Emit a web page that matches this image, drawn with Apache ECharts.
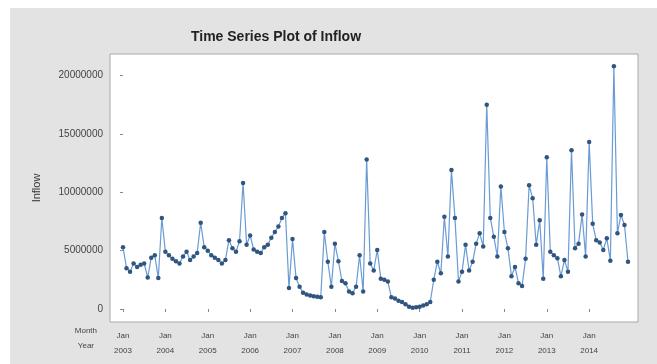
<!DOCTYPE html>
<html>
<head>
<meta charset="utf-8">
<script src="https://cdn.jsdelivr.net/npm/echarts@6/dist/echarts.min.js"></script>
<style>
  html, body { margin: 0; padding: 0; background: #ffffff; }
  #chart { width: 657px; height: 364px; }
</style>
</head>
<body>
<div id="chart"></div>
<script>
// Monthly inflow, January 2003 through December 2014 (one value per month)
const inflow = [
  5300000, 3500000, 3200000, 3900000, 3600000, 3800000, 3900000, 2700000, 4400000, 4600000, 2650000, 7800000,
  4900000, 4600000, 4300000, 4100000, 3900000, 4500000, 4900000, 4200000, 4500000, 4800000, 7400000, 5300000,
  5000000, 4600000, 4400000, 4200000, 3900000, 4200000, 5900000, 5200000, 4900000, 5800000, 10800000, 5500000,
  6300000, 5100000, 4900000, 4800000, 5300000, 5500000, 6100000, 6600000, 7060000, 7800000, 8200000, 1800000,
  6000000, 2650000, 1900000, 1400000, 1250000, 1150000, 1100000, 1050000, 1000000, 6600000, 4050000, 1900000,
  5600000, 4100000, 2400000, 2200000, 1500000, 1350000, 1900000, 4600000, 1500000, 12800000, 3900000, 3300000,
  5060000, 2600000, 2500000, 2350000, 1000000, 900000, 700000, 600000, 400000, 200000, 100000, 150000,
  200000, 300000, 400000, 600000, 2500000, 4050000, 3060000, 7900000, 4500000, 11900000, 7800000, 2350000,
  3200000, 5500000, 3300000, 4050000, 5600000, 6500000, 5350000, 17500000, 7800000, 6200000, 4500000, 10500000,
  6600000, 5200000, 2800000, 3600000, 2200000, 1970000, 4300000, 10600000, 9500000, 5500000, 7600000, 2600000,
  13000000, 4900000, 4600000, 4350000, 2800000, 4200000, 3200000, 13600000, 5200000, 5600000, 8100000, 4500000,
  14300000, 7300000, 5900000, 5700000, 5060000, 6060000, 4140000, 20800000, 6500000, 8060000, 7200000, 4050000
];

// Year tick labels (one tick at each January)
const years = [2003, 2004, 2005, 2006, 2007, 2008, 2009, 2010, 2011, 2012, 2013, 2014];
const monthLabel = 'Jan';

// Inflow axis ticks
const yTicks = [0, 5000000, 10000000, 15000000, 20000000];

const chart = echarts.init(document.getElementById('chart'), null, { renderer: 'canvas' });

const points = inflow.map((v, i) => [i, v]);
const janIndex = years.map((y, i) => i * 12);

const font = 'Liberation Sans, Arial, sans-serif';

chart.setOption({
  backgroundColor: '#ffffff',
  animation: false,
  title: {
    text: 'Time Series Plot of Inflow',
    left: 271,
    top: 25,
    textAlign: 'center',
    textStyle: { fontFamily: font, fontSize: 14, fontWeight: 'bold', color: '#222' }
  },
  graphic: [
    {
      type: 'rect', z: -10, silent: true,
      shape: { x: 10, y: 8, width: 647, height: 356 },
      style: { fill: '#e3e3e3' }
    },
    {
      type: 'text', right: 560, top: 327,
      style: { text: 'Month', fontFamily: font, fontSize: 8, fill: '#444', textAlign: 'right' }
    },
    {
      type: 'text', right: 563, top: 342,
      style: { text: 'Year', fontFamily: font, fontSize: 8, fill: '#444', textAlign: 'right' }
    }
  ],
  grid: {
    left: 110, right: 19, top: 54, bottom: 42,
    show: true, backgroundColor: '#ffffff', borderColor: '#a8a8a8', borderWidth: 1
  },
  xAxis: {
    type: 'value',
    min: -3.68,
    max: 145.83,
    axisLine: { show: false },
    splitLine: { show: false },
    axisTick: {
      show: true, length: 3, inside: false,
      customValues: janIndex,
      lineStyle: { color: '#888' }
    },
    axisLabel: {
      customValues: janIndex,
      margin: 6,
      fontFamily: font, fontSize: 8, color: '#444', lineHeight: 15,
      formatter: v => monthLabel + '\n' + years[Math.round(v / 12)]
    }
  },
  yAxis: {
    type: 'value',
    min: -1114000,
    max: 21850000,
    name: 'Inflow',
    nameLocation: 'middle',
    nameRotate: 90,
    nameGap: 68,
    nameTextStyle: { fontFamily: font, fontSize: 11, color: '#333' },
    axisLine: { show: false },
    splitLine: { show: false },
    axisTick: {
      show: true, length: 3,
      customValues: yTicks,
      lineStyle: { color: '#888' }
    },
    axisLabel: {
      customValues: yTicks,
      margin: 7,
      fontFamily: font, fontSize: 10, color: '#444',
      formatter: v => String(v)
    }
  },
  series: [{
    type: 'line',
    data: points,
    clip: false,
    symbol: 'circle',
    symbolSize: 4.5,
    showSymbol: true,
    lineStyle: { color: '#6a9bd4', width: 1.2 },
    itemStyle: { color: '#30557f', borderWidth: 0 }
  }]
});
</script>
</body>
</html>
